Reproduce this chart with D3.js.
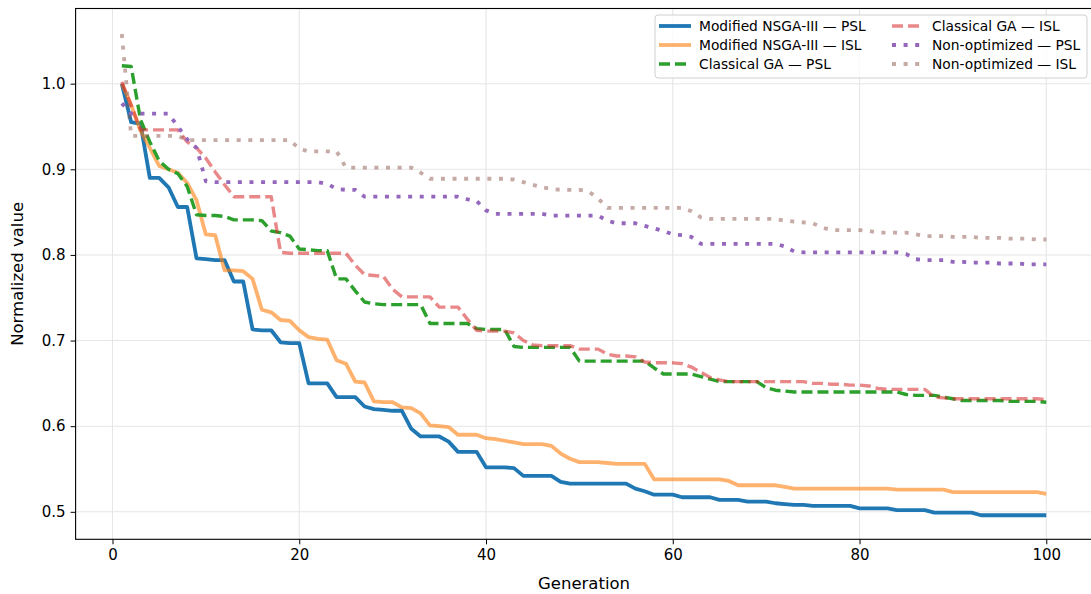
<!DOCTYPE html>
<html>
<head>
<meta charset="utf-8">
<script src="https://cdn.jsdelivr.net/npm/d3@7"></script>
<style>
  body { margin: 0; background: #fff; }
  svg { font-family: "DejaVu Sans", sans-serif; }
</style>
</head>
<body>
<div id="chart"></div>
<script>
// generations 1..100
var generations = d3.range(1, 101);

var nsgaPsl = [
  1.000,0.955,0.953,0.890,0.890,0.879,0.856,0.856,0.796,0.795,
  0.794,0.794,0.769,0.769,0.713,0.712,0.712,0.698,0.697,0.697,
  0.650,0.650,0.650,0.634,0.634,0.634,0.623,0.620,0.619,0.618,
  0.618,0.597,0.588,0.588,0.588,0.582,0.570,0.570,0.570,0.552,
  0.552,0.552,0.551,0.542,0.542,0.542,0.542,0.535,0.533,0.533,
  0.533,0.533,0.533,0.533,0.533,0.527,0.524,0.520,0.520,0.520,
  0.517,0.517,0.517,0.517,0.514,0.514,0.514,0.512,0.512,0.512,
  0.510,0.509,0.508,0.508,0.507,0.507,0.507,0.507,0.507,0.504,
  0.504,0.504,0.504,0.502,0.502,0.502,0.502,0.499,0.499,0.499,
  0.499,0.499,0.496,0.496,0.496,0.496,0.496,0.496,0.496,0.496
];
var nsgaIsl = [
  1.000,0.975,0.945,0.925,0.904,0.900,0.896,0.884,0.864,0.824,
  0.823,0.782,0.782,0.781,0.772,0.736,0.733,0.724,0.723,0.712,
  0.704,0.702,0.701,0.677,0.673,0.652,0.651,0.629,0.628,0.628,
  0.622,0.621,0.615,0.601,0.600,0.599,0.590,0.590,0.590,0.586,
  0.585,0.583,0.581,0.579,0.579,0.579,0.577,0.568,0.562,0.558,
  0.558,0.558,0.557,0.556,0.556,0.556,0.556,0.538,0.538,0.538,
  0.538,0.538,0.538,0.538,0.538,0.536,0.531,0.531,0.531,0.531,
  0.531,0.529,0.527,0.527,0.527,0.527,0.527,0.527,0.527,0.527,
  0.527,0.527,0.527,0.526,0.526,0.526,0.526,0.526,0.526,0.523,
  0.523,0.523,0.523,0.523,0.523,0.523,0.523,0.523,0.523,0.521
];
var gaPsl = [
  1.021,1.020,0.958,0.932,0.910,0.900,0.895,0.880,0.847,0.846,
  0.846,0.845,0.841,0.841,0.841,0.840,0.828,0.826,0.822,0.807,
  0.806,0.805,0.805,0.772,0.772,0.758,0.745,0.743,0.742,0.742,
  0.742,0.742,0.742,0.720,0.720,0.720,0.720,0.720,0.714,0.713,
  0.713,0.713,0.693,0.692,0.692,0.692,0.692,0.692,0.692,0.676,
  0.676,0.676,0.676,0.676,0.676,0.676,0.676,0.668,0.661,0.661,
  0.661,0.661,0.658,0.655,0.652,0.652,0.652,0.652,0.652,0.645,
  0.642,0.641,0.640,0.640,0.640,0.640,0.640,0.640,0.640,0.640,
  0.640,0.640,0.640,0.640,0.637,0.636,0.636,0.636,0.634,0.632,
  0.630,0.630,0.630,0.630,0.630,0.629,0.629,0.629,0.629,0.628
];
var gaIsl = [
  1.002,0.975,0.946,0.946,0.946,0.946,0.946,0.932,0.925,0.913,
  0.897,0.882,0.868,0.868,0.868,0.868,0.868,0.803,0.802,0.802,
  0.802,0.802,0.802,0.802,0.802,0.788,0.777,0.776,0.775,0.760,
  0.751,0.751,0.751,0.751,0.739,0.739,0.739,0.725,0.712,0.711,
  0.711,0.711,0.709,0.700,0.695,0.694,0.694,0.694,0.694,0.690,
  0.690,0.690,0.684,0.682,0.682,0.681,0.675,0.674,0.674,0.674,
  0.673,0.669,0.663,0.657,0.654,0.652,0.652,0.652,0.652,0.652,
  0.652,0.652,0.652,0.652,0.650,0.650,0.649,0.649,0.648,0.648,
  0.647,0.644,0.643,0.643,0.643,0.643,0.643,0.634,0.633,0.632,
  0.632,0.632,0.632,0.632,0.632,0.632,0.632,0.632,0.632,0.631
];
var baselinePsl = [
  0.977,0.965,0.965,0.965,0.965,0.965,0.950,0.935,0.925,0.886,
  0.885,0.885,0.885,0.885,0.885,0.885,0.885,0.885,0.885,0.885,
  0.885,0.885,0.883,0.877,0.876,0.876,0.868,0.868,0.868,0.868,
  0.868,0.868,0.868,0.868,0.868,0.868,0.868,0.865,0.863,0.852,
  0.848,0.848,0.848,0.848,0.848,0.848,0.846,0.846,0.846,0.846,
  0.846,0.846,0.840,0.837,0.837,0.837,0.834,0.831,0.828,0.824,
  0.823,0.821,0.813,0.813,0.813,0.813,0.813,0.813,0.813,0.813,
  0.813,0.810,0.804,0.803,0.803,0.803,0.803,0.803,0.803,0.803,
  0.803,0.803,0.803,0.803,0.801,0.795,0.794,0.794,0.794,0.792,
  0.792,0.791,0.791,0.791,0.790,0.790,0.790,0.789,0.789,0.789
];
var baselineIsl = [
  1.058,0.939,0.939,0.939,0.939,0.939,0.939,0.934,0.934,0.934,
  0.934,0.934,0.934,0.934,0.934,0.934,0.934,0.934,0.934,0.924,
  0.921,0.921,0.921,0.921,0.902,0.902,0.902,0.902,0.902,0.902,
  0.902,0.902,0.896,0.889,0.889,0.889,0.889,0.889,0.889,0.889,
  0.889,0.889,0.888,0.885,0.882,0.879,0.877,0.876,0.876,0.876,
  0.874,0.866,0.855,0.855,0.855,0.855,0.855,0.855,0.855,0.855,
  0.855,0.851,0.844,0.842,0.842,0.842,0.842,0.842,0.842,0.842,
  0.842,0.840,0.839,0.838,0.837,0.832,0.829,0.829,0.829,0.829,
  0.828,0.826,0.826,0.826,0.826,0.824,0.822,0.822,0.822,0.821,
  0.821,0.821,0.820,0.820,0.820,0.819,0.819,0.819,0.818,0.818
];

var seriesNames = [
  "Modified NSGA-III \u2014 PSL", "Modified NSGA-III \u2014 ISL",
  "Classical GA \u2014 PSL", "Classical GA \u2014 ISL",
  "Non-optimized \u2014 PSL", "Non-optimized \u2014 ISL"
];
var xTicks = [0, 20, 40, 60, 80, 100];
var yTicks = [0.5, 0.6, 0.7, 0.8, 0.9, 1.0];

var series = [
  { name: seriesNames[0], values: nsgaPsl, color: "#1f77b4", opacity: 1, width: 3.8, dash: null },
  { name: seriesNames[1], values: nsgaIsl, color: "#ff7f0e", opacity: 0.6, width: 3.8, dash: null },
  { name: seriesNames[2], values: gaPsl, color: "#2ca02c", opacity: 1, width: 3.4, dash: "11,5" },
  { name: seriesNames[3], values: gaIsl, color: "#d62728", opacity: 0.55, width: 3.4, dash: "11,5" },
  { name: seriesNames[4], values: baselinePsl, color: "#9467bd", opacity: 1, width: 3.8, dash: "4,7.6" },
  { name: seriesNames[5], values: baselineIsl, color: "#8c564b", opacity: 0.5, width: 3.8, dash: "4,7.6" }
];

var W = 1091, H = 594;
// plot box (window.top is reserved, so prefixed names)
var pLeft = 75.6, pRight = 1092.5, pTop = 8.5, pBottom = 539.3;

var svg = d3.select("#chart").append("svg")
    .attr("width", W)
    .attr("height", H);

var x = d3.scaleLinear().domain([-3.95, 104.95]).range([pLeft, pRight]);
var y = d3.scaleLinear().domain([0.4679, 1.0878]).range([pBottom, pTop]);

// grid
var grid = svg.append("g");
grid.selectAll("line.gx").data(xTicks).enter().append("line")
    .attr("x1", d => x(d)).attr("x2", d => x(d))
    .attr("y1", pTop).attr("y2", pBottom)
    .style("stroke", "#e6e6e6").style("stroke-width", 1.1);
grid.selectAll("line.gy").data(yTicks).enter().append("line")
    .attr("y1", d => y(d)).attr("y2", d => y(d))
    .attr("x1", pLeft).attr("x2", pRight)
    .style("stroke", "#e6e6e6").style("stroke-width", 1.1);

// lines
var line = d3.line()
    .x((d, i) => x(generations[i]))
    .y(d => y(d));

svg.append("clipPath").attr("id", "plotclip")
  .append("rect").attr("x", pLeft).attr("y", pTop)
  .attr("width", pRight - pLeft).attr("height", pBottom - pTop);

var plot = svg.append("g").attr("clip-path", "url(#plotclip)");
series.forEach(function(s) {
  plot.append("path")
      .datum(s.values)
      .attr("d", line)
      .style("fill", "none")
      .style("stroke", s.color)
      .style("stroke-opacity", s.opacity)
      .style("stroke-width", s.width)
      .style("stroke-linejoin", "round")
      .style("stroke-dasharray", s.dash);
});

// axes
var xAxis = svg.append("g")
    .attr("transform", "translate(0," + pBottom + ")")
    .call(d3.axisBottom(x).tickValues(xTicks).tickSize(5).tickPadding(5).tickFormat(d3.format("d")));
var yAxis = svg.append("g")
    .attr("transform", "translate(" + pLeft + ",0)")
    .call(d3.axisLeft(y).tickValues(yTicks).tickSize(5).tickPadding(5).tickFormat(d3.format(".1f")));

[xAxis, yAxis].forEach(function(a) {
  a.select(".domain").remove();
  a.selectAll("text").style("font-size", "15px").style("fill", "#000")
      .style("font-family", "DejaVu Sans, sans-serif");
  a.selectAll("line").style("stroke", "#000").style("stroke-width", 1);
});

// frame
svg.append("rect")
    .attr("x", pLeft).attr("y", pTop)
    .attr("width", pRight - pLeft).attr("height", pBottom - pTop)
    .style("fill", "none").style("stroke", "#000").style("stroke-width", 1.1);

svg.append("text")
    .attr("x", (pLeft + pRight) / 2).attr("y", 589)
    .attr("text-anchor", "middle")
    .style("font-size", "16.5px")
    .text("Generation");
svg.append("text")
    .attr("transform", "translate(23," + ((pTop + pBottom) / 2) + ") rotate(-90)")
    .attr("text-anchor", "middle")
    .style("font-size", "16.5px")
    .text("Normalized value");

// legend, two columns
var legend = svg.append("g");
legend.append("rect")
    .attr("x", 655).attr("y", 15)
    .attr("width", 432).attr("height", 63)
    .attr("rx", 3)
    .style("fill", "#fff").style("fill-opacity", 0.8)
    .style("stroke", "#d0d0d0").style("stroke-width", 1);

var colX = [659, 892];
var rowY = [26, 45, 64];
series.forEach(function(s, i) {
  var cx = colX[Math.floor(i / 3)], cy = rowY[i % 3];
  legend.append("line")
      .attr("x1", cx).attr("x2", cx + 32)
      .attr("y1", cy).attr("y2", cy)
      .style("stroke", s.color)
      .style("stroke-opacity", s.opacity)
      .style("stroke-width", s.width)
      .style("stroke-dasharray", s.dash);
  legend.append("text")
      .attr("x", cx + 40).attr("y", cy + 4.8)
      .style("font-size", "13.8px")
      .text(s.name);
});
</script>
</body>
</html>
